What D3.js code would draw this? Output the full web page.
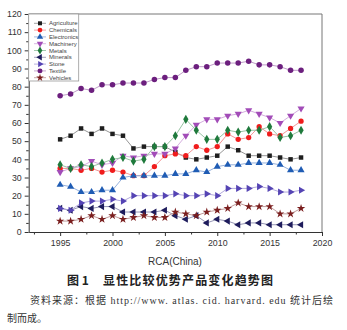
<!DOCTYPE html>
<html>
<head>
<meta charset="utf-8">
<script src="https://cdn.jsdelivr.net/npm/d3@7"></script>
<style>
  body { margin: 0; background: #fff; }
  svg { display: block; }
</style>
</head>
<body>
<svg id="chart" width="347" height="330"></svg>
<script>
// RCA by product group, 1995-2018
var years = d3.range(1995, 2019);

var agriculture = [51, 53, 57, 54, 57, 54, 53, 46, 47, 47, 47, 44, 41, 40, 41, 42, 47, 45, 42, 42, 42, 41, 40, 41];
var chemicals   = [35, 35, 34, 35, 33, 34, 33, 31, 31, 36, 42, 43, 42, 47, 45, 47, 54, 51, 52, 58, 54, 53, 57, 61];
var electronics = [26, 25, 22, 22, 23, 23, 30, 31, 31, 31, 31, 32, 32, 34, 33, 36, 37, 37, 38, 38, 38, 37, 34, 34];
var machinery   = [33, 35, 36, 39, 37, 38, 42, 41, 42, 43, 43, 46, 53, 59, 62, 62, 64, 65, 67, 65, 63, 60, 64, 68];
var metals      = [37, 35, 37, 36, 38, 40, 41, 39, 40, 47, 47, 53, 62, 56, 51, 51, 56, 55, 56, 56, 58, 52, 53, 56];
var minerals    = [13, 12, 14, 13, 14, 14, 11, 11, 11, 11, 12, 9, 7, 9, 5, 7, 6, 4, 5, 5, 4, 4, 4, 4];
var stone       = [13, 12, 16, 17, 17, 18, 17, 20, 20, 20, 20, 21, 20, 20, 21, 20, 24, 24, 24, 25, 24, 22, 22, 23];
var textile     = [75, 76, 79, 78, 81, 81, 82, 82, 82, 84, 85, 85, 89, 91, 91, 93, 93, 93, 94, 92, 92, 91, 89, 89];
var vehicles    = [6, 6, 7, 9, 7, 9, 7, 8, 9, 8, 8, 11, 10, 9, 11, 12, 13, 16, 14, 14, 14, 10, 10, 13];

var seriesNames = ["Agriculture", "Chemicals", "Electronics", "Machinery", "Metals", "Minerals", "Stone", "Textile", "Vehicles"];
var xTicks = [1995, 2000, 2005, 2010, 2015, 2020];
var yTicks = d3.range(0, 121, 10);

(function() {
  var series = [
    { values: agriculture, color: "#1e1e1e", line: "#8a8a8a", shape: d3.symbolSquare, size: 20, rot: 0 },
    { values: chemicals, color: "#f01c1c", line: "#f08a8a", shape: d3.symbolCircle, size: 22, rot: 0 },
    { values: electronics, color: "#1f5cb4", line: "#8aa8d8", shape: d3.symbolTriangle, size: 22, rot: 0 },
    { values: machinery, color: "#a24cb8", line: "#cfa4da", shape: d3.symbolTriangle, size: 22, rot: 180 },
    { values: metals, color: "#1f7a3c", line: "#8cbc98", shape: d3.symbolDiamond, size: 24, rot: 0 },
    { values: minerals, color: "#1e1c5c", line: "#8a8aac", shape: d3.symbolTriangle, size: 22, rot: -90 },
    { values: stone, color: "#5544b4", line: "#a89ed8", shape: d3.symbolTriangle, size: 22, rot: 90 },
    { values: textile, color: "#6c1f7e", line: "#b890c2", shape: d3.symbolCircle, size: 24, rot: 0 },
    { values: vehicles, color: "#7a1e1e", line: "#b89090", shape: d3.symbolStar, size: 22, rot: 0 }
  ];

  var svg = d3.select("#chart");
  var plotLeft = 28.7, plotRight = 322, plotTop = 14, plotBottom = 232;

  var x = d3.scaleLinear().domain([1992, 2020]).range([plotLeft, plotRight]);
  var y = d3.scaleLinear().domain([0, 120]).range([plotBottom, plotTop]);

  // frame (top and right)
  svg.append("path")
    .attr("d", "M" + plotLeft + "," + plotTop + "H" + plotRight + "V" + plotBottom)
    .attr("fill", "none").attr("stroke", "#777").attr("stroke-width", 1);

  // minor ticks
  svg.append("g")
    .attr("transform", "translate(0," + plotBottom + ")")
    .call(d3.axisBottom(x).tickValues(d3.range(1992.5, 2020, 5)).tickSize(2.5).tickFormat(""))
    .call(function(g) { g.select(".domain").remove(); g.selectAll("line").attr("stroke", "#333"); });
  svg.append("g")
    .attr("transform", "translate(" + plotLeft + ",0)")
    .call(d3.axisLeft(y).tickValues(d3.range(5, 120, 10)).tickSize(2.5).tickFormat(""))
    .call(function(g) { g.select(".domain").remove(); g.selectAll("line").attr("stroke", "#333"); });

  // main axes
  var xAxis = svg.append("g")
    .attr("transform", "translate(0," + plotBottom + ")")
    .call(d3.axisBottom(x).tickValues(xTicks).tickSize(4).tickPadding(4).tickSizeOuter(0).tickFormat(d3.format("d")));
  var yAxis = svg.append("g")
    .attr("transform", "translate(" + plotLeft + ",0)")
    .call(d3.axisLeft(y).tickValues(yTicks).tickSize(4).tickPadding(3).tickSizeOuter(0));

  [xAxis, yAxis].forEach(function(g) {
    g.select(".domain").attr("stroke", "#333");
    g.selectAll("line").attr("stroke", "#333");
    g.selectAll("text").attr("font-family", "Liberation Sans, Arial, sans-serif")
      .attr("font-size", 8.8).attr("fill", "#333");
  });

  svg.append("text")
    .attr("x", 175).attr("y", 265)
    .attr("text-anchor", "middle")
    .attr("font-family", "Liberation Sans, Arial, sans-serif")
    .attr("font-size", 10).attr("fill", "#333")
    .text("RCA(China)");

  // lines and markers
  var line = d3.line()
    .x(function(d, i) { return x(years[i]); })
    .y(function(d) { return y(d); });

  series.forEach(function(s) {
    var g = svg.append("g");
    g.append("path")
      .attr("d", line(s.values))
      .attr("fill", "none")
      .attr("stroke", s.line)
      .attr("stroke-width", 0.9);
    g.selectAll("path.pt")
      .data(s.values)
      .enter().append("path")
      .attr("class", "pt")
      .attr("d", d3.symbol().type(s.shape).size(s.size)())
      .attr("transform", function(d, i) {
        return "translate(" + x(years[i]) + "," + y(d) + ") rotate(" + s.rot + ")";
      })
      .attr("fill", s.color);
  });

  // legend
  var legend = svg.append("g");
  legend.append("rect")
    .attr("x", plotLeft).attr("y", plotTop)
    .attr("width", 50).attr("height", 67)
    .attr("fill", "#fff").attr("stroke", "#999").attr("stroke-width", 0.8);

  series.forEach(function(s, i) {
    var ly = 23.3 + i * 6.8;
    legend.append("line")
      .attr("x1", 34).attr("x2", 46).attr("y1", ly).attr("y2", ly)
      .attr("stroke", s.line).attr("stroke-width", 0.8);
    legend.append("path")
      .attr("d", d3.symbol().type(s.shape).size(s.size * 0.8)())
      .attr("transform", "translate(40," + ly + ") rotate(" + s.rot + ")")
      .attr("fill", s.color);
    legend.append("text")
      .attr("x", 49).attr("y", ly + 2)
      .attr("font-family", "Liberation Sans, Arial, sans-serif")
      .attr("font-size", 6).attr("fill", "#444")
      .text(seriesNames[i]);
  });

  // caption and source note
  var cap = svg.append("g")
    .attr("font-family", "Noto Sans CJK SC, sans-serif")
    .attr("font-weight", 700)
    .attr("font-size", 12).attr("fill", "#222");
  cap.append("text")
    .attr("x", 67).attr("y", 285)
    .attr("xml:space", "preserve")
    .text("图 1");
  cap.append("text")
    .attr("x", 103).attr("y", 285)
    .attr("textLength", 170).attr("lengthAdjust", "spacing")
    .text("显性比较优势产品变化趋势图");

  svg.append("text")
    .attr("x", 30).attr("y", 304)
    .attr("font-family", "Liberation Serif, Noto Sans CJK SC, serif")
    .attr("font-size", 10).attr("fill", "#333")
    .attr("textLength", 303).attr("lengthAdjust", "spacing")
    .text("资料来源：根据 http://www. atlas. cid. harvard. edu 统计后绘");

  svg.append("text")
    .attr("x", 7).attr("y", 322)
    .attr("font-family", "Liberation Serif, Noto Sans CJK SC, serif")
    .attr("font-size", 10).attr("fill", "#333")
    .text("制而成。");
})();
</script>
</body>
</html>
